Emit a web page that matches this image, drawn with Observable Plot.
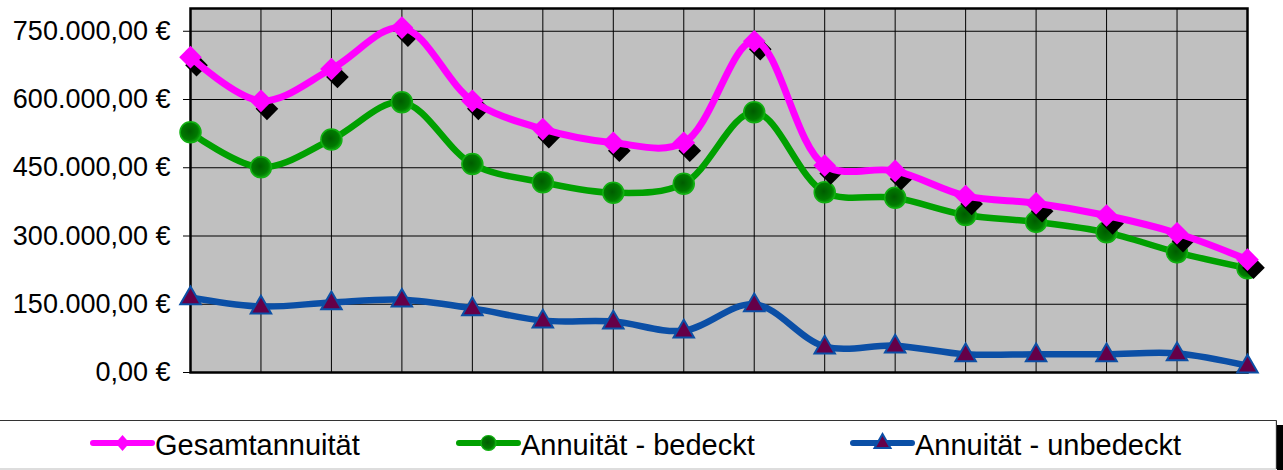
<!DOCTYPE html>
<html>
<head>
<meta charset="utf-8">
<script src="https://cdn.jsdelivr.net/npm/d3@7"></script>
<script src="https://cdn.jsdelivr.net/npm/@observablehq/plot@0.6"></script>
<style>
  html, body { margin: 0; padding: 0; background: #fff; }
  #chart svg { display: block; }
  #legend { display: block; margin-top: 2px; }
</style>
</head>
<body>
<div id="chart"></div>
<div id="legendwrap"></div>
<script>
// ---- data ----
const periods = d3.range(1, 17); // 16 unlabeled points
const gesamt    = [693000, 597000, 667000, 758000, 597000, 535000, 505000, 505000, 728000, 455000, 443000, 388000, 372000, 345000, 306000, 248000];
const bedeckt   = [528000, 451000, 512000, 594000, 458000, 418000, 395000, 415000, 572000, 396000, 384000, 346000, 331000, 308000, 264000, 229000];
const unbedeckt = [165000, 145000, 154000, 160000, 141000, 114000, 112000, 92000, 150000, 57000, 59000, 40000, 40000, 40000, 42000, 15000];
const seriesNames = ["Gesamtannuität", "Annuität - bedeckt", "Annuität - unbedeckt"];
const yTicks = [0, 150000, 300000, 450000, 600000, 750000];

const colors = { pink: "#ff00ff", green: "#00a000", blue: "#0b4fa6", purple: "#650048" };

const rows = (vals) => periods.map((p, i) => ({ p, v: vals[i] }));
const dG = rows(gesamt), dB = rows(bedeckt), dU = rows(unbedeckt);

const de = d3.formatLocale({ decimal: ",", thousands: ".", grouping: [3], currency: ["", " €"] });
const fmt = (v) => de.format(",.2f")(v) + " €";

const FONT = "'Liberation Sans', Arial, sans-serif";

const plot = Plot.plot({
  width: 1283,
  height: 418,
  marginLeft: 190,
  marginRight: 36,
  marginTop: 8,
  marginBottom: 46,
  style: { fontFamily: FONT, background: "#fff", overflow: "visible" },
  x: { type: "linear", domain: [1, 16], axis: null },
  y: { domain: [0, 800000], label: null },
  marks: [
    Plot.frame({ fill: "#c0c0c0", stroke: null }),
    Plot.gridX({ ticks: periods, stroke: "#000", strokeOpacity: 1, strokeWidth: 1 }),
    Plot.gridY({ ticks: yTicks, stroke: "#000", strokeOpacity: 1, strokeWidth: 1 }),
    Plot.frame({ stroke: "#000", strokeWidth: 2.5 }),
    Plot.axisY({ ticks: yTicks, tickFormat: fmt, label: null, tickSize: 7, tickPadding: 13, fontSize: 27, fill: "#000", stroke: "#000", strokeWidth: 1 }),
    // blue
    Plot.line(dU, { x: "p", y: "v", curve: "catmull-rom", stroke: colors.blue, strokeWidth: 6.5 }),
    Plot.dot(dU, { x: "p", y: "v", symbol: "triangle", r: 7.6, fill: colors.purple, stroke: colors.blue, strokeWidth: 2, dy: 1 }),
    // green
    Plot.line(dB, { x: "p", y: "v", curve: "catmull-rom", stroke: colors.green, strokeWidth: 6.5 }),
    Plot.dot(dB, { x: "p", y: "v", r: 10.5, fill: "url(#gball)", stroke: "#12b012", strokeWidth: 1.5 }),
    // pink with black marker shadow
    Plot.dot(dG, { x: "p", y: "v", symbol: "diamond2", r: 10.2, fill: "#000", dx: 6, dy: 8 }),
    Plot.line(dG, { x: "p", y: "v", curve: "catmull-rom", stroke: colors.pink, strokeWidth: 7 }),
    Plot.dot(dG, { x: "p", y: "v", symbol: "diamond2", r: 10.2, fill: colors.pink })
  ]
});

// radial gradient for the green balls
const svg = d3.select(plot);
const defs = svg.insert("defs", ":first-child");
const g = defs.append("radialGradient").attr("id", "gball").attr("cx", "45%").attr("cy", "45%").attr("r", "60%");
g.append("stop").attr("offset", "0%").attr("stop-color", "#005c00");
g.append("stop").attr("offset", "65%").attr("stop-color", "#007a00");
g.append("stop").attr("offset", "100%").attr("stop-color", "#12b012");
document.getElementById("chart").appendChild(plot);

// ---- legend below the plot ----
const L = d3.select("#legendwrap").append("svg").attr("id", "legend")
  .attr("width", 1283).attr("height", 50).style("font-family", FONT);
L.append("rect").attr("x", 1277).attr("y", 5).attr("width", 6).attr("height", 45).attr("fill", "#000");
L.append("rect").attr("x", -2).attr("y", 0.5).attr("width", 1278).attr("height", 48.5)
  .attr("fill", "#fff").attr("stroke", "#bbb").attr("stroke-width", 1);
L.append("line").attr("x1", -2).attr("x2", 1276.5).attr("y1", 0.5).attr("y2", 0.5).attr("stroke", "#333");
L.append("line").attr("x1", 1276.5).attr("x2", 1276.5).attr("y1", 0.5).attr("y2", 49).attr("stroke", "#333");

const items = [
  { name: seriesNames[0], x0: 93, color: colors.pink, marker: "diamond" },
  { name: seriesNames[1], x0: 459, color: colors.green, marker: "circle" },
  { name: seriesNames[2], x0: 853, color: colors.blue, marker: "triangle" }
];
const ly = 23;
items.forEach((it) => {
  const gi = L.append("g");
  gi.append("line").attr("x1", it.x0).attr("x2", it.x0 + 59).attr("y1", ly).attr("y2", ly)
    .attr("stroke", it.color).attr("stroke-width", 6).attr("stroke-linecap", "round");
  const cx = it.x0 + 29.5;
  if (it.marker === "diamond") {
    gi.append("path").attr("d", `M${cx},${ly - 8}L${cx + 7},${ly}L${cx},${ly + 8}L${cx - 7},${ly}Z`).attr("fill", it.color);
  } else if (it.marker === "circle") {
    gi.append("circle").attr("cx", cx).attr("cy", ly).attr("r", 7.5).attr("fill", "url(#gball2)").attr("stroke", "#12b012").attr("stroke-width", 1.2);
  } else {
    gi.append("path").attr("d", `M${cx},${ly - 9}L${cx + 8},${ly + 5}L${cx - 8},${ly + 5}Z`)
      .attr("fill", colors.purple).attr("stroke", colors.blue).attr("stroke-width", 2);
  }
  gi.append("text").attr("x", it.x0 + 62).attr("y", 35).attr("font-size", 29).attr("fill", "#000").text(it.name);
});
const ldefs = L.insert("defs", ":first-child");
const g2 = ldefs.append("radialGradient").attr("id", "gball2").attr("cx", "45%").attr("cy", "45%").attr("r", "60%");
g2.append("stop").attr("offset", "0%").attr("stop-color", "#005c00");
g2.append("stop").attr("offset", "65%").attr("stop-color", "#007a00");
g2.append("stop").attr("offset", "100%").attr("stop-color", "#12b012");
</script>
</body>
</html>
